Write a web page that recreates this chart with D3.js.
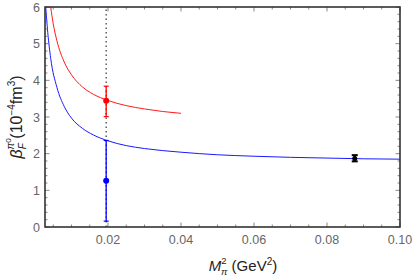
<!DOCTYPE html>
<html>
<head>
<meta charset="utf-8">
<script src="https://cdn.jsdelivr.net/npm/d3@7"></script>
<style>
  body { margin: 0; background: #fff; }
  text { font-family: "Liberation Sans", Arial, sans-serif; }
</style>
</head>
<body>
<div id="chart"></div>
<script>
// data
const blueX = [0.0028, 0.0035, 0.0043, 0.006, 0.008, 0.01, 0.013, 0.016, 0.02, 0.025, 0.03, 0.04, 0.05, 0.06, 0.07, 0.08, 0.09, 0.1];
const blueY = [6.2, 5.3, 4.6, 3.81, 3.29, 2.97, 2.69, 2.51, 2.35, 2.22, 2.14, 2.04, 1.97, 1.93, 1.9, 1.88, 1.86, 1.85];
const redX = [0.0043, 0.005, 0.006, 0.008, 0.01, 0.013, 0.016, 0.02, 0.025, 0.03, 0.035, 0.04];
const redY = [6.0, 5.54, 5.08, 4.5, 4.15, 3.82, 3.62, 3.45, 3.31, 3.22, 3.15, 3.1];

// points with error bars: x, value, low, high, colour
const pointX = [0.0195, 0.0195, 0.0876];
const pointY = [3.44, 1.26, 1.87];
const pointLo = [3.01, 0.16, 1.79];
const pointHi = [3.84, 2.36, 1.96];
const pointColor = ["#ff0000", "#0000ff", "#000000"];

const markerX = 0.0195;

const xMajor = [0.02, 0.04, 0.06, 0.08, 0.10];
const yMajor = [0, 1, 2, 3, 4, 5, 6];

const width = 415;
const height = 279;
const margin = { top: 7, bottom: 52, left: 45, right: 15 };

const svg = d3.select("div#chart")
    .append("svg")
    .attr("width", width)
    .attr("height", height);

const x = d3.scaleLinear().domain([0.00274, 0.1]).range([margin.left, width - margin.right]);
const y = d3.scaleLinear().domain([0, 6]).range([height - margin.bottom, margin.top]);

svg.append("clipPath").attr("id", "plot")
    .append("rect")
    .attr("x", x.range()[0]).attr("y", y.range()[1])
    .attr("width", x.range()[1] - x.range()[0])
    .attr("height", y.range()[0] - y.range()[1]);

const plot = svg.append("g").attr("clip-path", "url(#plot)");

// dotted marker
plot.append("line")
    .attr("x1", x(markerX)).attr("x2", x(markerX))
    .attr("y1", y(0)).attr("y2", y(6))
    .attr("stroke", "#444")
    .attr("stroke-width", 1.3)
    .attr("stroke-dasharray", "1.5,3");

const line = d3.line()
    .x((d) => x(d[0]))
    .y((d) => y(d[1]))
    .curve(d3.curveMonotoneX);

plot.append("path")
    .datum(redX.map((d, i) => [d, redY[i]]))
    .attr("d", line)
    .attr("fill", "none")
    .attr("stroke", "#ff1a1a")
    .attr("stroke-width", 1);

plot.append("path")
    .datum(blueX.map((d, i) => [d, blueY[i]]))
    .attr("d", line)
    .attr("fill", "none")
    .attr("stroke", "#1a1aff")
    .attr("stroke-width", 1);

// error bars
pointX.forEach((px, i) => {
    const g = svg.append("g").attr("stroke", pointColor[i]).attr("fill", pointColor[i]);
    const cw = i === 2 ? 3 : 2.5;
    const sw = i === 2 ? 2.2 : 1.3;
    g.append("line")
        .attr("x1", x(px)).attr("x2", x(px))
        .attr("y1", y(pointLo[i])).attr("y2", y(pointHi[i]))
        .attr("stroke-width", sw);
    [pointLo[i], pointHi[i]].forEach((v) => {
        g.append("line")
            .attr("x1", x(px) - cw).attr("x2", x(px) + cw)
            .attr("y1", y(v)).attr("y2", y(v))
            .attr("stroke-width", i === 2 ? 2 : 1.2);
    });
    g.append("circle")
        .attr("cx", x(px)).attr("cy", y(pointY[i]))
        .attr("r", i === 2 ? 2.5 : 3)
        .attr("stroke", "none");
});

// frame ticks
const ticks = svg.append("g").attr("stroke", "#888").attr("stroke-width", 1);
const xMinor = d3.range(0.005, 0.1, 0.005).filter((t) => !xMajor.some((m) => Math.abs(m - t) < 1e-9));
const yMinor = d3.range(0.2, 6, 0.2).filter((t) => Math.abs(t - Math.round(t)) > 1e-6);

function xTick(t, len) {
    ticks.append("line").attr("x1", x(t)).attr("x2", x(t)).attr("y1", y(0)).attr("y2", y(0) - len);
    ticks.append("line").attr("x1", x(t)).attr("x2", x(t)).attr("y1", y(6)).attr("y2", y(6) + len);
}
function yTick(t, len) {
    ticks.append("line").attr("y1", y(t)).attr("y2", y(t)).attr("x1", x.range()[0]).attr("x2", x.range()[0] + len);
    ticks.append("line").attr("y1", y(t)).attr("y2", y(t)).attr("x1", x.range()[1]).attr("x2", x.range()[1] - len);
}
xMajor.forEach((t) => xTick(t, 4.5));
xMinor.forEach((t) => xTick(t, 2.5));
yMajor.forEach((t) => yTick(t, 4.5));
yMinor.forEach((t) => yTick(t, 2.5));

// frame
svg.append("rect")
    .attr("x", x.range()[0]).attr("y", y.range()[1])
    .attr("width", x.range()[1] - x.range()[0])
    .attr("height", y.range()[0] - y.range()[1])
    .attr("fill", "none")
    .attr("stroke", "#333")
    .attr("stroke-width", 1.6);

// tick labels
svg.append("g").selectAll("text").data(xMajor).join("text")
    .attr("x", (d) => x(d))
    .attr("y", y(0) + 17)
    .attr("text-anchor", "middle")
    .attr("fill", "#666")
    .attr("font-size", 12.5)
    .text((d) => d3.format(".2f")(d));

svg.append("g").selectAll("text").data(yMajor).join("text")
    .attr("x", x.range()[0] - 5)
    .attr("y", (d) => y(d) + 4.5)
    .attr("text-anchor", "end")
    .attr("fill", "#666")
    .attr("font-size", 12.5)
    .text((d) => d);

// axis titles
const xt = svg.append("text")
    .attr("x", 243)
    .attr("y", 271)
    .attr("text-anchor", "middle")
    .attr("fill", "#222")
    .attr("font-size", 15);
xt.append("tspan").attr("font-style", "italic").text("M");
xt.append("tspan").attr("font-size", 9.5).attr("dy", -7).text("2");
xt.append("tspan").attr("font-size", 9.5).attr("font-style", "italic").attr("dx", -5.5).attr("dy", 11).text("π");
xt.append("tspan").attr("dy", -4).text(" (GeV");
xt.append("tspan").attr("font-size", 10).attr("dy", -6).text("2");
xt.append("tspan").attr("dy", 6).text(")");

const yt = svg.append("text")
    .attr("transform", `translate(22,${(y(0) + y(6)) / 2}) rotate(-90)`)
    .attr("text-anchor", "middle")
    .attr("fill", "#222")
    .attr("font-size", 16);
yt.append("tspan").attr("font-style", "italic").text("β");
yt.append("tspan").attr("font-size", 10).attr("font-style", "italic").attr("dy", -8).text("π");
yt.append("tspan").attr("font-size", 8).attr("dy", -3).text("0");
yt.append("tspan").attr("font-size", 10).attr("font-style", "italic").attr("dx", -11).attr("dy", 15).text("F");
yt.append("tspan").attr("dy", -4).text(" (10");
yt.append("tspan").attr("font-size", 10).attr("dy", -7).text("−4");
yt.append("tspan").attr("dy", 7).text("fm");
yt.append("tspan").attr("font-size", 10).attr("dy", -7).text("3");
yt.append("tspan").attr("dy", 7).text(")");
</script>
</body>
</html>
